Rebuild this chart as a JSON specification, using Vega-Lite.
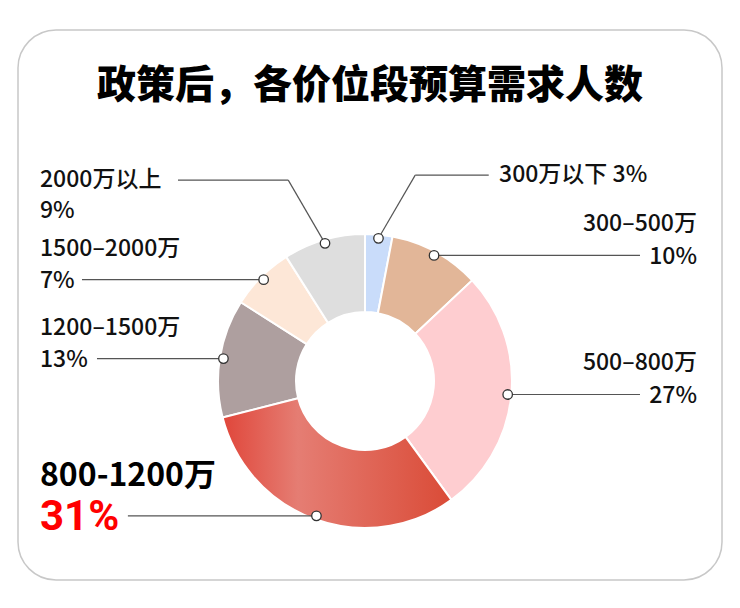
{
  "$schema": "https://vega.github.io/schema/vega-lite/v6.json",
  "width": 704,
  "height": 550,
  "autosize": {"type": "none"},
  "padding": {"left": 18, "top": 30, "right": 18, "bottom": 28},
  "background": "#ffffff",
  "title": {
    "text": "政策后，各价位段预算需求人数",
    "font": "Noto Sans CJK SC",
    "fontSize": 39,
    "fontWeight": 900,
    "color": "#000000",
    "anchor": "middle",
    "baseline": "alphabetic",
    "offset": -107
  },
  "data": {
    "values": [
      {"range": "300万以下", "pct": 3, "idx": 1},
      {"range": "300–500万", "pct": 10, "idx": 2},
      {"range": "500–800万", "pct": 27, "idx": 3},
      {"range": "800-1200万", "pct": 31, "idx": 4},
      {"range": "1200–1500万", "pct": 13, "idx": 5},
      {"range": "1500–2000万", "pct": 7, "idx": 6},
      {"range": "2000万以上", "pct": 9, "idx": 7}
    ]
  },
  "transform": [
    {"stack": "pct", "groupby": [], "sort": [{"field": "idx", "order": "ascending"}], "as": ["s0", "s1"]},
    {"joinaggregate": [{"op": "max", "field": "pct", "as": "maxPct"}]},
    {"calculate": "(datum.s0 + datum.s1) * PI / 100", "as": "ang"},
    {"calculate": "sin(datum.ang)", "as": "sx"},
    {"calculate": "cos(datum.ang)", "as": "cy"},
    {"calculate": "datum.sx > 0 ? 1 : -1", "as": "side"},
    {"calculate": "abs(datum.sx) < 0.35 && datum.cy > 0", "as": "lifted"},
    {"calculate": "datum.pct == datum.maxPct", "as": "isMax"},
    {"calculate": "datum.pct + '%'", "as": "pctText"},
    {"calculate": "0.975 * datum.sx", "as": "dotx"},
    {"calculate": "0.975 * datum.cy", "as": "doty"},
    {"calculate": "datum.lifted ? datum.dotx + 0.25 * datum.side : datum.dotx", "as": "elbx"},
    {"calculate": "datum.lifted ? datum.doty + 0.43 : datum.doty", "as": "liney"},
    {"calculate": "datum.lifted ? (datum.side > 0 ? datum.elbx + 0.5 : datum.elbx - 0.75) : (datum.side > 0 ? 1.8707 : -2.2109 + (length(datum.pctText) * (datum.isMax ? 25.3 : 15) + 12) / 147)", "as": "endx"},
    {"calculate": "datum.lifted && datum.side > 0", "as": "inline"},
    {"calculate": "datum.inline ? datum.endx + 0.07 : (datum.side > 0 ? 2.2585 : -2.2109)", "as": "labx"},
    {"calculate": "datum.inline ? datum.range + ' ' + datum.pctText : datum.range", "as": "nameText"},
    {"calculate": "datum.lifted ? datum.liney : datum.liney + (datum.isMax ? 0.272 : 0.211)", "as": "namey"},
    {"calculate": "datum.lifted ? datum.liney - 0.211 : datum.liney - 0.01", "as": "pcty"}
  ],
  "layer": [
    {
      "mark": {"type": "arc", "outerRadius": 147, "innerRadius": 69, "stroke": "#ffffff", "strokeWidth": 2},
      "encoding": {
        "x": {"datum": 0, "type": "quantitative", "scale": {"domain": [-2.3605, 2.4286], "nice": false, "zero": false}, "axis": null},
        "y": {"datum": 0, "type": "quantitative", "scale": {"domain": [-1.3537, 2.3878], "nice": false, "zero": false}, "axis": null},
        "theta": {"field": "s0", "type": "quantitative", "scale": {"domain": [0, 100]}},
        "theta2": {"field": "s1"},
        "color": {
          "field": "range",
          "type": "nominal",
          "scale": {
            "domain": ["300万以下", "300–500万", "500–800万", "800-1200万", "1200–1500万", "1500–2000万", "2000万以上"],
            "range": ["#c9dcfa", "#e2b698", "#fecdd0", "#e3675c", "#ae9f9f", "#fde7d7", "#dedede"]
          },
          "legend": null
        }
      }
    },
    {
      "transform": [{"filter": "datum.isMax"}],
      "mark": {
        "type": "arc",
        "outerRadius": 147,
        "innerRadius": 69,
        "stroke": "#ffffff",
        "strokeWidth": 2,
        "fill": {
          "gradient": "linear",
          "x1": 0, "y1": 0, "x2": 1, "y2": 0,
          "stops": [
            {"offset": 0, "color": "#e0463a"},
            {"offset": 0.33, "color": "#e57d73"},
            {"offset": 1, "color": "#da4b37"}
          ]
        }
      },
      "encoding": {
        "x": {"datum": 0, "type": "quantitative", "scale": {"domain": [-2.3605, 2.4286], "nice": false, "zero": false}, "axis": null},
        "y": {"datum": 0, "type": "quantitative", "scale": {"domain": [-1.3537, 2.3878], "nice": false, "zero": false}, "axis": null},
        "theta": {"field": "s0", "type": "quantitative", "scale": {"domain": [0, 100]}},
        "theta2": {"field": "s1"}
      }
    },
    {
      "transform": [{"filter": "datum.lifted"}],
      "mark": {"type": "rule", "color": "#555555", "strokeWidth": 1.2},
      "encoding": {
        "x": {"field": "dotx", "type": "quantitative", "scale": {"domain": [-2.3605, 2.4286], "nice": false, "zero": false}, "axis": null},
        "y": {"field": "doty", "type": "quantitative", "scale": {"domain": [-1.3537, 2.3878], "nice": false, "zero": false}, "axis": null},
        "x2": {"field": "elbx"},
        "y2": {"field": "liney"}
      }
    },
    {
      "mark": {"type": "rule", "color": "#555555", "strokeWidth": 1.2},
      "encoding": {
        "x": {"field": "elbx", "type": "quantitative", "scale": {"domain": [-2.3605, 2.4286], "nice": false, "zero": false}, "axis": null},
        "x2": {"field": "endx"},
        "y": {"field": "liney", "type": "quantitative", "scale": {"domain": [-1.3537, 2.3878], "nice": false, "zero": false}, "axis": null}
      }
    },
    {
      "mark": {"type": "point", "shape": "circle", "filled": true, "fill": "#ffffff", "stroke": "#333333", "strokeWidth": 1.3, "size": 90, "opacity": 1, "fillOpacity": 1},
      "encoding": {
        "x": {"field": "dotx", "type": "quantitative", "scale": {"domain": [-2.3605, 2.4286], "nice": false, "zero": false}, "axis": null},
        "y": {"field": "doty", "type": "quantitative", "scale": {"domain": [-1.3537, 2.3878], "nice": false, "zero": false}, "axis": null}
      }
    },
    {
      "transform": [{"filter": "!datum.isMax"}],
      "mark": {
        "type": "text",
        "font": "Noto Sans CJK SC",
        "fontSize": 23,
        "fontWeight": 500,
        "color": "#111111",
        "baseline": "middle",
        "align": {"expr": "datum.side > 0 && !datum.lifted ? 'right' : 'left'"}
      },
      "encoding": {
        "x": {"field": "labx", "type": "quantitative", "scale": {"domain": [-2.3605, 2.4286], "nice": false, "zero": false}, "axis": null},
        "y": {"field": "namey", "type": "quantitative", "scale": {"domain": [-1.3537, 2.3878], "nice": false, "zero": false}, "axis": null},
        "text": {"field": "nameText"}
      }
    },
    {
      "transform": [{"filter": "!datum.isMax && !datum.inline"}],
      "mark": {
        "type": "text",
        "font": "Noto Sans CJK SC",
        "fontSize": 23,
        "fontWeight": 500,
        "color": "#111111",
        "baseline": "middle",
        "align": {"expr": "datum.side > 0 && !datum.lifted ? 'right' : 'left'"}
      },
      "encoding": {
        "x": {"field": "labx", "type": "quantitative", "scale": {"domain": [-2.3605, 2.4286], "nice": false, "zero": false}, "axis": null},
        "y": {"field": "pcty", "type": "quantitative", "scale": {"domain": [-1.3537, 2.3878], "nice": false, "zero": false}, "axis": null},
        "text": {"field": "pctText"}
      }
    },
    {
      "transform": [{"filter": "datum.isMax"}],
      "mark": {
        "type": "text",
        "font": "Noto Sans CJK SC",
        "fontSize": 32,
        "fontWeight": "bold",
        "color": "#000000",
        "baseline": "middle",
        "align": "left"
      },
      "encoding": {
        "x": {"field": "labx", "type": "quantitative", "scale": {"domain": [-2.3605, 2.4286], "nice": false, "zero": false}, "axis": null},
        "y": {"field": "namey", "type": "quantitative", "scale": {"domain": [-1.3537, 2.3878], "nice": false, "zero": false}, "axis": null},
        "text": {"field": "nameText"}
      }
    },
    {
      "transform": [{"filter": "datum.isMax"}],
      "mark": {
        "type": "text",
        "font": "Roboto",
        "fontSize": 42,
        "fontWeight": "bold",
        "color": "#ff0000",
        "baseline": "middle",
        "align": "left"
      },
      "encoding": {
        "x": {"field": "labx", "type": "quantitative", "scale": {"domain": [-2.3605, 2.4286], "nice": false, "zero": false}, "axis": null},
        "y": {"field": "pcty", "type": "quantitative", "scale": {"domain": [-1.3537, 2.3878], "nice": false, "zero": false}, "axis": null},
        "text": {"field": "pctText"}
      }
    }
  ],
  "config": {
    "view": {"stroke": "#c8c8c8", "strokeWidth": 1.5, "cornerRadius": 38, "fill": "#ffffff"}
  }
}
